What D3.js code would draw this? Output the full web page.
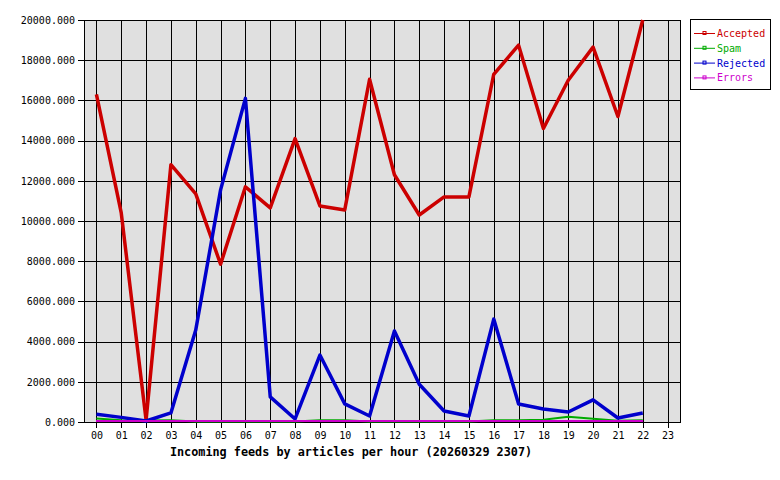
<!DOCTYPE html>
<html>
<head>
<meta charset="utf-8">
<script src="https://cdn.jsdelivr.net/npm/d3@7"></script>
<style>
  html, body { margin: 0; padding: 0; background: #ffffff; }
  svg { display: block; }
  text { font-family: "DejaVu Sans Mono", "Liberation Mono", monospace; }
</style>
</head>
<body>
<svg id="chart" width="780" height="480"></svg>
<script>
const hours = ["00","01","02","03","04","05","06","07","08","09","10","11","12","13","14","15","16","17","18","19","20","21","22","23"];
const yTicks = [0, 2000, 4000, 6000, 8000, 10000, 12000, 14000, 16000, 18000, 20000];

const accepted = [16300, 10400, 100, 12800, 11350, 7850, 11700, 10650, 14100, 10750, 10550, 17050, 12300, 10300, 11200, 11200, 17300, 18750, 14600, 17000, 18650, 15200, 20000];
const rejected = [380, 230, 50, 450, 4580, 11550, 16100, 1250, 150, 3330, 900, 300, 4530, 1880, 550, 300, 5120, 900, 650, 500, 1100, 200, 450];
const spam     = [180, 90, 80, 90, 30, 20, 20, 20, 30, 90, 90, 30, 20, 20, 20, 30, 90, 90, 110, 260, 160, 60, 90];
const errors   = [50, 50, 50, 50, 50, 50, 50, 50, 50, 50, 50, 50, 50, 50, 50, 50, 50, 50, 50, 50, 50, 50, 50];

const seriesNames = ["Accepted", "Spam", "Rejected", "Errors"];
const seriesColors = ["#cc0000", "#00aa00", "#0000cc", "#cc00cc"];
const seriesWidths = [3.5, 2, 3.5, 2.5];
const seriesData = [accepted, spam, rejected, errors];
const title = "Incoming feeds by articles per hour (20260329 2307)";

const pL = 84, pR = 680, pT = 20, pB = 422;
const svg = d3.select("#chart");

const x = d3.scalePoint().domain(hours).range([pL, pR]).padding(0.5);
const y = d3.scaleLinear().domain([0, 20000]).range([pB, pT]);

// plot background
svg.append("rect").attr("x", pL).attr("y", pT)
  .attr("width", pR - pL).attr("height", pB - pT)
  .attr("fill", "#e0e0e0");

// grid
const grid = svg.append("g").attr("shape-rendering", "crispEdges");
grid.selectAll("line.v").data(hours).join("line").attr("class", "v")
  .attr("x1", d => Math.round(x(d)) + 0.5).attr("x2", d => Math.round(x(d)) + 0.5)
  .attr("y1", pT).attr("y2", pB)
  .attr("stroke", "#000").attr("stroke-width", 1);
grid.selectAll("line.h").data(yTicks).join("line").attr("class", "h")
  .attr("x1", pL).attr("x2", pR)
  .attr("y1", d => Math.round(y(d)) + 0.5).attr("y2", d => Math.round(y(d)) + 0.5)
  .attr("stroke", "#000").attr("stroke-width", 1);

// plot border
svg.append("rect").attr("x", pL + 0.5).attr("y", pT + 0.5)
  .attr("width", pR - pL).attr("height", pB - pT)
  .attr("fill", "none").attr("stroke", "#000").attr("stroke-width", 1)
  .attr("shape-rendering", "crispEdges");

// axes
const yAxis = d3.axisLeft(y).tickValues(yTicks).tickFormat(d => d3.format(".3f")(d))
  .tickSize(6).tickPadding(3);
const gy = svg.append("g").attr("transform", `translate(${pL},0)`).call(yAxis);
gy.select(".domain").remove();
gy.selectAll("line").attr("shape-rendering", "crispEdges").attr("stroke", "#000");
gy.selectAll("text").attr("font-size", "10px").attr("fill", "#000")
  .attr("font-family", "DejaVu Sans Mono, monospace");

const xAxis = d3.axisBottom(x).tickSize(6).tickPadding(4);
const gx = svg.append("g").attr("transform", `translate(0,${pB})`).call(xAxis);
gx.select(".domain").remove();
gx.selectAll("line").attr("shape-rendering", "crispEdges").attr("stroke", "#000");
gx.selectAll("text").attr("font-size", "10px").attr("fill", "#000")
  .attr("font-family", "DejaVu Sans Mono, monospace");

// lines
const line = d3.line().x((d, i) => x(hours[i])).y(d => y(d));
[0, 1, 2, 3].forEach(k => {
  svg.append("path").datum(seriesData[k])
    .attr("d", line)
    .attr("fill", "none")
    .attr("stroke", seriesColors[k])
    .attr("stroke-width", seriesWidths[k])
    .attr("stroke-linejoin", "round")
    .attr("shape-rendering", k === 3 ? "crispEdges" : null);
});

// title
svg.append("text").attr("x", 351).attr("y", 456)
  .attr("text-anchor", "middle").attr("font-size", "11.8px").attr("font-weight", "bold")
  .attr("fill", "#000").text(title);

// legend
const lg = svg.append("g");
lg.append("rect").attr("x", 690.5).attr("y", 19.5).attr("width", 80).attr("height", 70)
  .attr("fill", "#fff").attr("stroke", "#000").attr("shape-rendering", "crispEdges");
seriesNames.forEach((name, i) => {
  const cy = 33.5 + i * 14.8;
  lg.append("line").attr("x1", 694).attr("x2", 715).attr("y1", cy).attr("y2", cy)
    .attr("stroke", seriesColors[i]).attr("stroke-width", 1);
  lg.append("rect").attr("x", 703).attr("y", cy - 2).attr("width", 3).attr("height", 3)
    .attr("fill", "none").attr("stroke", seriesColors[i]).attr("stroke-width", 1);
  lg.append("text").attr("x", 717).attr("y", cy + 3.5)
    .attr("font-size", "10px").attr("fill", seriesColors[i]).text(name);
});
</script>
</body>
</html>
